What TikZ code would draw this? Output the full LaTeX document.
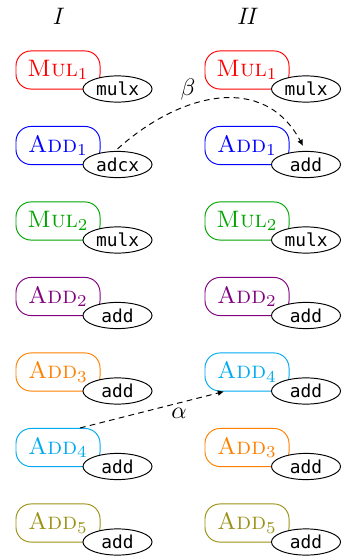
\documentclass[tikz,border=0pt]{standalone}
\usepackage{fontspec}
\newfontfamily\monof{DejaVu Sans Mono}
\usetikzlibrary{shapes.geometric,arrows.meta,calc}
\definecolor{cRed}{RGB}{255,0,0}
\definecolor{cBlue}{RGB}{0,0,255}
\definecolor{cGreen}{RGB}{0,165,0}
\definecolor{cViolet}{RGB}{128,0,128}
\definecolor{cOrange}{RGB}{255,128,0}
\definecolor{cCyan}{RGB}{0,170,240}
\definecolor{cOlive}{RGB}{155,145,20}
\tikzset{
  instbox/.style={draw=#1, text=#1, rectangle, rounded corners=6.3pt,
    minimum width=35.3pt, minimum height=16pt, inner sep=0pt, line width=0.4pt},
  opell/.style={draw=black, fill=white, ellipse, minimum width=29pt,
    minimum height=11pt, inner sep=0pt, line width=0.4pt,
    font=\monof\fontsize{7.5}{8}\selectfont},
  deparrow/.style={dashed, dash pattern=on 2.4pt off 1.8pt, line width=0.4pt,
    -{Latex[length=2.6pt,width=2.4pt]}},
  title/.style={font=\fontsize{10}{11}\selectfont\itshape, inner sep=0pt},
  lbl/.style={font=\fontsize{10}{11}\selectfont, inner sep=0pt}
}
\newcommand{\Ins}[2]{\textsc{#1}$_{#2}$}
\begin{document}
\begin{tikzpicture}[x=0.42pt,y=-0.42pt]
\useasboundingbox (0,0) rectangle (344,559);
\node[title] (tI) at (57,16) {I};
\node[title] (tII) at (246,16) {II};
% left column
\node[instbox=cRed]    (lb0) at (58,70)    {\Ins{Mul}{1}};
\node[instbox=cBlue]   (lb1) at (58,145.5) {\Ins{Add}{1}};
\node[instbox=cGreen]  (lb2) at (58,221)   {\Ins{Mul}{2}};
\node[instbox=cViolet] (lb3) at (58,296.5) {\Ins{Add}{2}};
\node[instbox=cOrange] (lb4) at (58,372)   {\Ins{Add}{3}};
\node[instbox=cCyan]   (lb5) at (58,447.5) {\Ins{Add}{4}};
\node[instbox=cOlive]  (lb6) at (58,523)   {\Ins{Add}{5}};
\node[opell] (le0) at (117.5,89)    {mulx};
\node[opell] (le1) at (117.5,164.5) {adcx};
\node[opell] (le2) at (117.5,240)   {mulx};
\node[opell] (le3) at (117.5,315.5) {add};
\node[opell] (le4) at (117.5,391)   {add};
\node[opell] (le5) at (117.5,466.5) {add};
\node[opell] (le6) at (117.5,542)   {add};
% right column
\node[instbox=cRed]    (rb0) at (247,70)    {\Ins{Mul}{1}};
\node[instbox=cBlue]   (rb1) at (247,145.5) {\Ins{Add}{1}};
\node[instbox=cGreen]  (rb2) at (247,221)   {\Ins{Mul}{2}};
\node[instbox=cViolet] (rb3) at (247,296.5) {\Ins{Add}{2}};
\node[instbox=cCyan]   (rb4) at (247,372)   {\Ins{Add}{4}};
\node[instbox=cOrange] (rb5) at (247,447.5) {\Ins{Add}{3}};
\node[instbox=cOlive]  (rb6) at (247,523)   {\Ins{Add}{5}};
\node[opell] (re0) at (306,89)    {mulx};
\node[opell] (re1) at (306,164.5) {add};
\node[opell] (re2) at (306,240)   {mulx};
\node[opell] (re3) at (306,315.5) {add};
\node[opell] (re4) at (306,391)   {add};
\node[opell] (re5) at (306,466.5) {add};
\node[opell] (re6) at (306,542)   {add};
% beta arrow
\coordinate (bs) at ($(le1.north)+(0,-2)$);
\coordinate (bt) at ($(re1.north)+(-3,-5)$);
\draw[deparrow] (bs) to[out=42,in=118,looseness=1.15] (bt);
\node[lbl] (beta) at (188,90) {$\beta$};
% alpha arrow
\coordinate (as) at ($(lb5.north)+(22,0)$);
\coordinate (at) at ($(rb4.south)+(-23,0)$);
\draw[deparrow] (as) -- (at);
\node[lbl] (alpha) at (179,413) {$\alpha$};
\end{tikzpicture}
\end{document}
